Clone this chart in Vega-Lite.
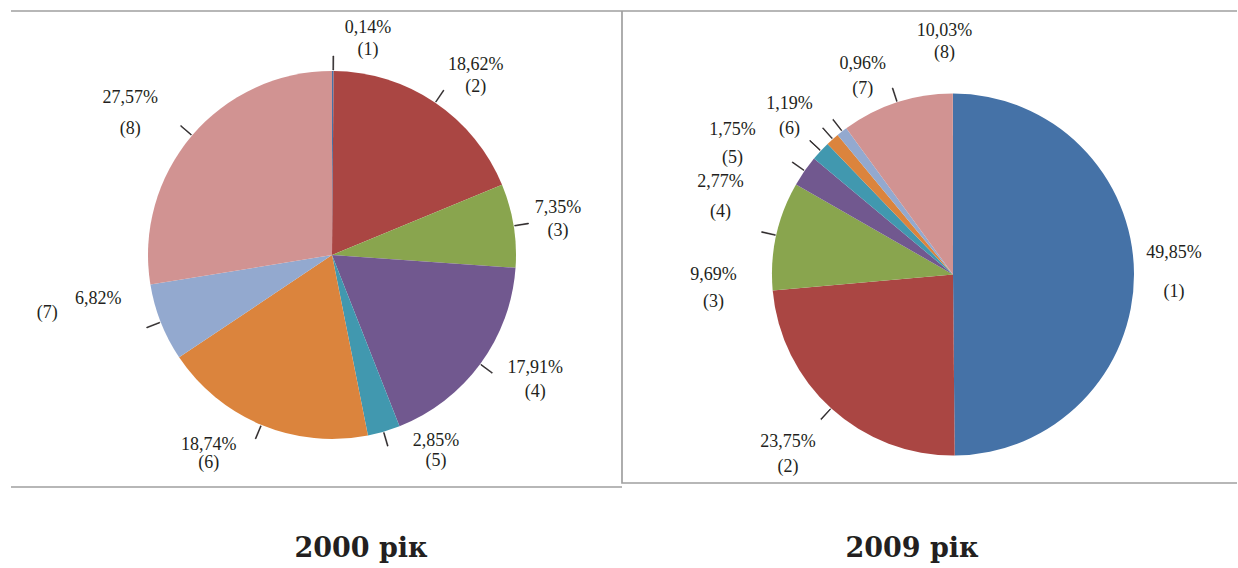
{
  "$schema": "https://vega.github.io/schema/vega-lite/v6.json",
  "padding": {"left": 10, "top": 10, "right": 0, "bottom": 0},
  "spacing": 0,
  "bounds": "flush",
  "background": "#ffffff",
  "config": {
    "view": {"stroke": null},
    "text": {"font": "Liberation Serif", "fontSize": 18, "color": "#231f20", "lineBreak": "\n", "align": "center", "baseline": "middle"},
    "arc": {"stroke": null}
  },
  "datasets": {
    "pies": [
      {"year": "2000", "k": 1, "share": 0.14},
      {"year": "2000", "k": 2, "share": 18.62},
      {"year": "2000", "k": 3, "share": 7.35},
      {"year": "2000", "k": 4, "share": 17.91},
      {"year": "2000", "k": 5, "share": 2.85},
      {"year": "2000", "k": 6, "share": 18.74},
      {"year": "2000", "k": 7, "share": 6.82},
      {"year": "2000", "k": 8, "share": 27.57},
      {"year": "2009", "k": 1, "share": 49.85},
      {"year": "2009", "k": 2, "share": 23.75},
      {"year": "2009", "k": 3, "share": 9.69},
      {"year": "2009", "k": 4, "share": 2.77},
      {"year": "2009", "k": 5, "share": 1.75},
      {"year": "2009", "k": 6, "share": 1.19},
      {"year": "2009", "k": 7, "share": 0.96},
      {"year": "2009", "k": 8, "share": 10.03}
    ]
  },
  "hconcat": [
    {
      "width": 611,
      "height": 476,
      "view": {"stroke": "#a0a0a0", "strokeWidth": 1.7, "strokeDash": [611, 476, 611, 476]},
      "title": {"text": "2000 рік", "orient": "bottom", "anchor": "middle", "frame": "group", "font": "DejaVu Serif", "fontSize": 27, "fontWeight": "bold", "color": "#231f20", "baseline": "alphabetic", "offset": 70, "dx": 44.5},
      "data": {"name": "pies"},
      "transform": [
        {"filter": "datum.year == '2000'"},
        {"window": [{"op": "sum", "field": "share", "as": "end"}], "sort": [{"field": "k", "order": "ascending"}], "frame": [null, 0]},
        {"calculate": "datum.end - datum.share", "as": "start"},
        {"calculate": "datum.end - datum.share / 2", "as": "mid"},
        {"calculate": "datum.mid + 0.07", "as": "mid2"},
        {"calculate": "replace(format(datum.share, '.2f'), '.', ',') + '%'", "as": "pct"},
        {"calculate": "'(' + datum.k + ')'", "as": "num"},
        {"calculate": "datum.pct + '\\n' + datum.num", "as": "label"}
      ],
      "layer": [
        {
          "mark": {"type": "arc", "radius": 184, "xOffset": 15.5, "yOffset": 6},
          "encoding": {
            "theta": {"field": "start", "type": "quantitative", "scale": {"domain": [0, 100]}},
            "theta2": {"field": "end"},
            "color": {"field": "k", "type": "nominal", "scale": {"domain": [1, 2, 3, 4, 5, 6, 7, 8], "range": ["#4572A7", "#AA4643", "#89A54E", "#71588F", "#4198AF", "#DB843D", "#93A9CF", "#D19392"]}, "legend": null}
          }
        },
        {
          "mark": {"type": "arc", "radius": 199, "radius2": 185, "xOffset": 15.5, "yOffset": 6, "color": "#231f20", "stroke": "#231f20", "strokeWidth": 0.6},
          "encoding": {
            "theta": {"field": "mid", "type": "quantitative", "scale": {"domain": [0, 100]}},
            "theta2": {"field": "mid2"}
          }
        },
        {"transform": [{"filter": "datum.k == 1"}], "mark": {"type": "text", "radius": 232, "xOffset": 15.5, "yOffset": 6, "dx": 35, "dy": 5, "lineHeight": 22}, "encoding": {"theta": {"field": "mid", "type": "quantitative", "scale": {"domain": [0, 100]}}, "text": {"field": "label"}}},
        {"transform": [{"filter": "datum.k == 2"}], "mark": {"type": "text", "radius": 232, "xOffset": 15.5, "yOffset": 6, "dx": 14, "dy": 2, "lineHeight": 22}, "encoding": {"theta": {"field": "mid", "type": "quantitative", "scale": {"domain": [0, 100]}}, "text": {"field": "label"}}},
        {"transform": [{"filter": "datum.k == 3"}], "mark": {"type": "text", "radius": 232, "xOffset": 15.5, "yOffset": 6, "dx": -3, "dy": -9.5, "lineHeight": 23}, "encoding": {"theta": {"field": "mid", "type": "quantitative", "scale": {"domain": [0, 100]}}, "text": {"field": "label"}}},
        {"transform": [{"filter": "datum.k == 4"}], "mark": {"type": "text", "radius": 232, "xOffset": 15.5, "yOffset": 6, "dx": 16, "dy": -24, "lineHeight": 24}, "encoding": {"theta": {"field": "mid", "type": "quantitative", "scale": {"domain": [0, 100]}}, "text": {"field": "label"}}},
        {"transform": [{"filter": "datum.k == 5"}], "mark": {"type": "text", "radius": 232, "xOffset": 15.5, "yOffset": 6, "dx": 38.5, "dy": -36.5, "lineHeight": 20}, "encoding": {"theta": {"field": "mid", "type": "quantitative", "scale": {"domain": [0, 100]}}, "text": {"field": "label"}}},
        {"transform": [{"filter": "datum.k == 6"}], "mark": {"type": "text", "radius": 232, "xOffset": 15.5, "yOffset": 6, "dx": -34.5, "dy": -24, "lineHeight": 18}, "encoding": {"theta": {"field": "mid", "type": "quantitative", "scale": {"domain": [0, 100]}}, "text": {"field": "label"}}},
        {"transform": [{"filter": "datum.k == 7"}], "mark": {"type": "text", "radius": 232, "xOffset": 15.5, "yOffset": 6, "dx": -18, "dy": -41}, "encoding": {"theta": {"field": "mid", "type": "quantitative", "scale": {"domain": [0, 100]}}, "text": {"field": "pct"}}},
        {"transform": [{"filter": "datum.k == 7"}], "mark": {"type": "text", "radius": 232, "xOffset": 15.5, "yOffset": 6, "dx": -69, "dy": -27}, "encoding": {"theta": {"field": "mid", "type": "quantitative", "scale": {"domain": [0, 100]}}, "text": {"field": "num"}}},
        {"transform": [{"filter": "datum.k == 8"}], "mark": {"type": "text", "radius": 232, "xOffset": 15.5, "yOffset": 6, "dx": -25, "dy": -6.5, "lineHeight": 31}, "encoding": {"theta": {"field": "mid", "type": "quantitative", "scale": {"domain": [0, 100]}}, "text": {"field": "label"}}}
      ]
    },
    {
      "width": 615,
      "height": 472,
      "view": {"stroke": "#a0a0a0", "strokeWidth": 1.7, "strokeDash": [615, 472, 1087, 0]},
      "title": {"text": "2009 рік", "orient": "bottom", "anchor": "middle", "frame": "group", "font": "DejaVu Serif", "fontSize": 27, "fontWeight": "bold", "color": "#231f20", "baseline": "alphabetic", "offset": 74, "dx": -17.5},
      "data": {"name": "pies"},
      "transform": [
        {"filter": "datum.year == '2009'"},
        {"window": [{"op": "sum", "field": "share", "as": "end"}], "sort": [{"field": "k", "order": "ascending"}], "frame": [null, 0]},
        {"calculate": "datum.end - datum.share", "as": "start"},
        {"calculate": "datum.end - datum.share / 2", "as": "mid"},
        {"calculate": "datum.mid + 0.07", "as": "mid2"},
        {"calculate": "replace(format(datum.share, '.2f'), '.', ',') + '%'", "as": "pct"},
        {"calculate": "'(' + datum.k + ')'", "as": "num"},
        {"calculate": "datum.pct + '\\n' + datum.num", "as": "label"}
      ],
      "layer": [
        {
          "mark": {"type": "arc", "radius": 181, "xOffset": 23.5, "yOffset": 27.5},
          "encoding": {
            "theta": {"field": "start", "type": "quantitative", "scale": {"domain": [0, 100]}},
            "theta2": {"field": "end"},
            "color": {"field": "k", "type": "nominal", "scale": {"domain": [1, 2, 3, 4, 5, 6, 7, 8], "range": ["#4572A7", "#AA4643", "#89A54E", "#71588F", "#4198AF", "#DB843D", "#93A9CF", "#D19392"]}, "legend": null}
          }
        },
        {
          "transform": [{"filter": "datum.k != 1"}],
          "mark": {"type": "arc", "radius": 196, "radius2": 182, "xOffset": 23.5, "yOffset": 27.5, "color": "#231f20", "stroke": "#231f20", "strokeWidth": 0.6},
          "encoding": {
            "theta": {"field": "mid", "type": "quantitative", "scale": {"domain": [0, 100]}},
            "theta2": {"field": "mid2"}
          }
        },
        {"transform": [{"filter": "datum.k == 1"}], "mark": {"type": "text", "radius": 235, "xOffset": 23.5, "yOffset": 27.5, "dx": -14, "dy": -20.5, "lineHeight": 39}, "encoding": {"theta": {"field": "mid", "type": "quantitative", "scale": {"domain": [0, 100]}}, "text": {"field": "label"}}},
        {"transform": [{"filter": "datum.k == 2"}], "mark": {"type": "text", "radius": 235, "xOffset": 23.5, "yOffset": 27.5, "dx": -7, "dy": -6.5, "lineHeight": 25}, "encoding": {"theta": {"field": "mid", "type": "quantitative", "scale": {"domain": [0, 100]}}, "text": {"field": "label"}}},
        {"transform": [{"filter": "datum.k == 3"}], "mark": {"type": "text", "radius": 235, "xOffset": 23.5, "yOffset": 27.5, "dx": -10, "dy": 51, "lineHeight": 27}, "encoding": {"theta": {"field": "mid", "type": "quantitative", "scale": {"domain": [0, 100]}}, "text": {"field": "label"}}},
        {"transform": [{"filter": "datum.k == 4"}], "mark": {"type": "text", "radius": 235, "xOffset": 23.5, "yOffset": 27.5, "dx": -39.5, "dy": 41.5, "lineHeight": 30}, "encoding": {"theta": {"field": "mid", "type": "quantitative", "scale": {"domain": [0, 100]}}, "text": {"field": "label"}}},
        {"transform": [{"filter": "datum.k == 5"}], "mark": {"type": "text", "radius": 235, "xOffset": 23.5, "yOffset": 27.5, "dx": -48.5, "dy": 15.5, "lineHeight": 28}, "encoding": {"theta": {"field": "mid", "type": "quantitative", "scale": {"domain": [0, 100]}}, "text": {"field": "label"}}},
        {"transform": [{"filter": "datum.k == 6"}], "mark": {"type": "text", "radius": 235, "xOffset": 23.5, "yOffset": 27.5, "dx": -7, "dy": 4.5, "lineHeight": 25}, "encoding": {"theta": {"field": "mid", "type": "quantitative", "scale": {"domain": [0, 100]}}, "text": {"field": "label"}}},
        {"transform": [{"filter": "datum.k == 7"}], "mark": {"type": "text", "radius": 235, "xOffset": 23.5, "yOffset": 27.5, "dx": 54, "dy": -25, "lineHeight": 25}, "encoding": {"theta": {"field": "mid", "type": "quantitative", "scale": {"domain": [0, 100]}}, "text": {"field": "label"}}},
        {"transform": [{"filter": "datum.k == 8"}], "mark": {"type": "text", "radius": 235, "xOffset": 23.5, "yOffset": 27.5, "dx": 64.5, "dy": -20, "lineHeight": 22}, "encoding": {"theta": {"field": "mid", "type": "quantitative", "scale": {"domain": [0, 100]}}, "text": {"field": "label"}}}
      ]
    }
  ]
}
